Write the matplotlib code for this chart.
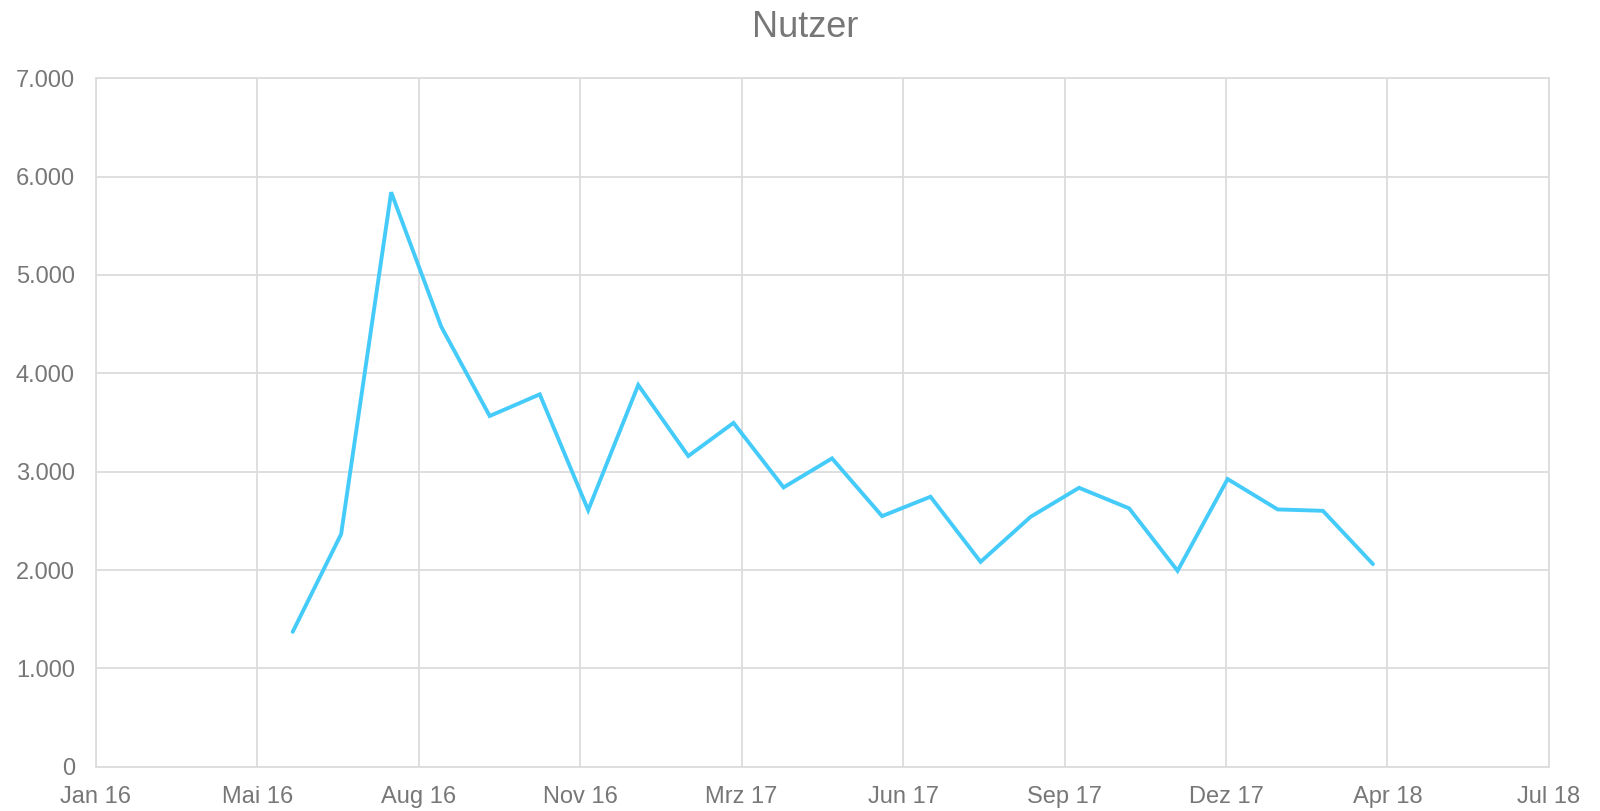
import datetime as dt
import matplotlib
matplotlib.use("Agg")
import matplotlib.pyplot as plt
from matplotlib.ticker import FuncFormatter, MultipleLocator

plt.rcParams['font.family'] = ['Liberation Sans', 'DejaVu Sans']

# monthly values, dated at month end (Mai 2016 .. Mrz 2018)
months = [(2016, 5), (2016, 6), (2016, 7), (2016, 8), (2016, 9), (2016, 10),
          (2016, 11), (2016, 12), (2017, 1), (2017, 2), (2017, 3), (2017, 4),
          (2017, 5), (2017, 6), (2017, 7), (2017, 8), (2017, 9), (2017, 10),
          (2017, 11), (2017, 12), (2018, 1), (2018, 2), (2018, 3)]
nutzer = [1371, 2365, 5841, 4474, 3566, 3786, 2609, 3881, 3159, 3496, 2840,
          3135, 2548, 2745, 2083, 2541, 2836, 2627, 1992, 2925, 2616, 2602, 2060]
x_labels = ['Jan 16', 'Mai 16', 'Aug 16', 'Nov 16', 'Mrz 17', 'Jun 17',
            'Sep 17', 'Dez 17', 'Apr 18', 'Jul 18']


def month_end(y, m):
    nxt = dt.date(y + (m == 12), m % 12 + 1, 1)
    return nxt - dt.timedelta(days=1)


dates = [month_end(y, m) for y, m in months]

# Excel-style date axis: start date, major unit of 100 days
x_start = dt.date(2016, 1, 30)
x_ticks = [x_start + dt.timedelta(days=100 * i) for i in range(len(x_labels))]

grey = '#777777'
grid_col = '#dcdcdc'

fig = plt.figure(figsize=(16, 8.11), dpi=100)
ax = fig.add_axes([0.0598, 0.0546, 0.9083, 0.8489])

ax.plot(dates, nutzer, color='#45cbfa', lw=2.8, solid_joinstyle='miter',
        solid_capstyle='round', zorder=3)

ax.set_xlim(x_ticks[0], x_ticks[-1])
ax.set_ylim(0, 7000)
ax.set_xticks(x_ticks)
ax.set_xticklabels(x_labels)
ax.yaxis.set_major_locator(MultipleLocator(1000))
ax.yaxis.set_major_formatter(FuncFormatter(lambda v, p: f"{v:,.0f}".replace(',', '.')))

ax.grid(True, color=grid_col, lw=1.3)
ax.set_axisbelow(True)
for s in ax.spines.values():
    s.set_color(grid_col)
    s.set_linewidth(1.3)
ax.tick_params(axis='both', length=0, labelsize=17, colors=grey)
ax.tick_params(axis='y', pad=15)
ax.tick_params(axis='x', pad=14)

fig.text(0.503, 1 - 36.7 / 811, 'Nutzer', ha='center', va='baseline',
         fontsize=26, color=grey)

fig.savefig('out.png', dpi=100, facecolor='white')
